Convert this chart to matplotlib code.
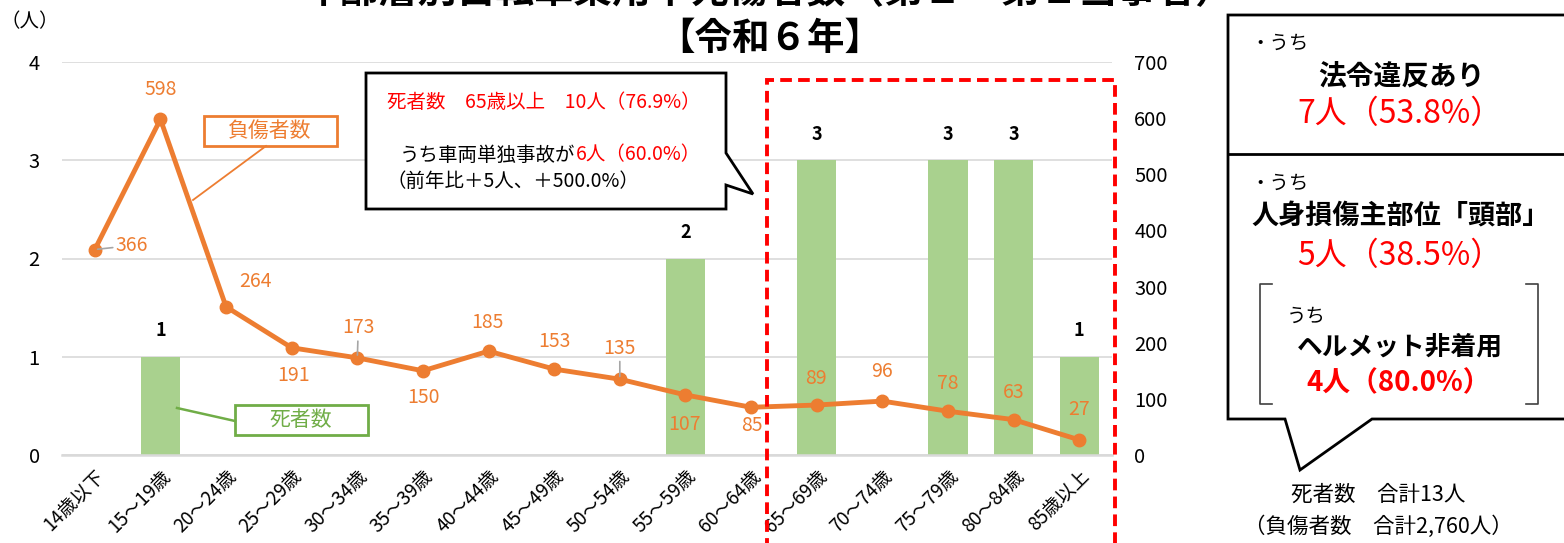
import matplotlib
matplotlib.use('Agg')
import matplotlib.pyplot as plt
from matplotlib.patches import Polygon, Rectangle
from matplotlib.lines import Line2D
from matplotlib.text import Annotation

plt.rcParams['font.family'] = ['Noto Sans CJK JP', 'DejaVu Sans']

# ---------------------------------------------------------------- データ
age_groups = ['14歳以下', '15～19歳', '20～24歳', '25～29歳', '30～34歳', '35～39歳',
              '40～44歳', '45～49歳', '50～54歳', '55～59歳', '60～64歳', '65～69歳',
              '70～74歳', '75～79歳', '80～84歳', '85歳以上']
deaths = [0, 1, 0, 0, 0, 0, 0, 0, 0, 2, 0, 3, 0, 3, 3, 1]          # 死者数（左軸）
injured = [366, 598, 264, 191, 173, 150, 185, 153, 135, 107, 85, 89, 96, 78, 63, 27]  # 負傷者数（右軸）
left_ticks = [0, 1, 2, 3, 4]
right_ticks = [0, 100, 200, 300, 400, 500, 600, 700]

# 負傷者数ラベルの位置（px）
inj_label_offset = [(37, 4), (0, 30), (29, 25), (2, -28), (1, 30), (1, -27), (-1, 29), (0, 28),
                    (0, 31), (-1, -30), (1, -18), (-1, 27), (0, 30), (0, 28), (0, 27), (0, 30)]

ORANGE = '#ED7D31'
GREEN_BAR = '#A9D18E'
GREEN = '#70AD47'
GRID = '#D9D9D9'

W, H = 1564, 543


def fx(x):  # px -> figure 座標
    return x / W


def fy(y):
    return 1 - y / H


fig = plt.figure(figsize=(W / 100, H / 100), dpi=100)
ax = fig.add_axes([fx(62), fy(455), fx(1112) - fx(62), fy(62) - fy(455)])
ax2 = ax.twinx()

x = list(range(len(age_groups)))

# 棒グラフ（死者数）
ax.bar(x, deaths, width=0.6, color=GREEN_BAR, zorder=2)
for i, d in enumerate(deaths):
    if d > 0:
        ax.annotate(str(d), (i, d), xytext=(0, 26), textcoords='offset pixels',
                    ha='center', va='center', fontsize=13, fontweight='bold', color='black')
ax.set_xlim(-0.5, len(age_groups) - 0.5)
ax.set_ylim(0, 4)
ax.set_yticks(left_ticks)
ax.yaxis.grid(True, color=GRID, lw=1.2, zorder=0)
ax.set_axisbelow(True)
ax.set_xticks(x)
ax.set_xticklabels(age_groups, rotation=45, ha='right', rotation_mode='anchor')
ax.tick_params(axis='both', length=0, labelsize=14.5)
ax.tick_params(axis='x', pad=8, labelsize=13.5)
ax.tick_params(axis='y', pad=16)
for s in ['top', 'left', 'right']:
    ax.spines[s].set_visible(False)
ax.spines['bottom'].set_color(GRID)
ax.spines['bottom'].set_linewidth(1.8)

# 折れ線（負傷者数）
ax2.plot(x, injured, color=ORANGE, lw=3.5, marker='o', markersize=9, zorder=3)
ax2.set_ylim(0, 700)
ax2.set_yticks(right_ticks)
ax2.tick_params(axis='y', length=0, labelsize=14.5, pad=16)
for s in ['top', 'left', 'right', 'bottom']:
    ax2.spines[s].set_visible(False)
for i, v in enumerate(injured):
    dx, dy = inj_label_offset[i]
    arrow = None
    if i in (0, 4, 8):
        arrow = dict(arrowstyle='-', color='#A6A6A6', lw=1.2, shrinkA=0, shrinkB=2)
    ax2.annotate(str(v), (i, v), xytext=(dx, dy), textcoords='offset pixels',
                 ha='center', va='center', fontsize=14, color=ORANGE, arrowprops=arrow)

# 凡例代わりの吹き出し
fig.add_artist(Rectangle((fx(204), fy(146)), fx(337) - fx(204), fy(116) - fy(146),
                         transform=fig.transFigure, fill=False, ec=ORANGE, lw=2))
fig.text(fx(270), fy(131), '負傷者数', ha='center', va='center', fontsize=15, color=ORANGE)
fig.add_artist(Line2D([fx(266), fx(193)], [fy(146), fy(200)], transform=fig.transFigure,
                      color=ORANGE, lw=1.3))

fig.add_artist(Rectangle((fx(235), fy(435)), fx(368) - fx(235), fy(405) - fy(435),
                         transform=fig.transFigure, fill=False, ec=GREEN, lw=2))
fig.text(fx(301), fy(420), '死者数', ha='center', va='center', fontsize=15, color=GREEN)
fig.add_artist(Line2D([fx(177), fx(235)], [fy(408), fy(421)], transform=fig.transFigure,
                      color=GREEN, lw=1.8))

# 左上の単位
fig.text(fx(30), fy(22), '（人）', ha='center', va='center', fontsize=14)

# タイトル（上側は切れている）
fig.text(fx(768), fy(-8), '年齢層別自転車乗用中死傷者数（第１～第２当事者）', ha='center', va='center',
         fontsize=28, fontweight='bold')
fig.text(fx(770), fy(38), '【令和６年】', ha='center', va='center', fontsize=27, fontweight='bold')

# 65歳以上の赤点線枠
fig.add_artist(Rectangle((fx(767), fy(548)), fx(1115) - fx(767), fy(80) - fy(548),
                         transform=fig.transFigure, fill=False, ec='red', lw=2.8,
                         ls=(0, (3, 1.6))))

# 中央の吹き出し
bubble = [(366, 73), (726, 73), (726, 153), (753, 194), (726, 185), (726, 209), (366, 209)]
fig.add_artist(Polygon([(fx(a), fy(b)) for a, b in bubble], closed=True, transform=fig.transFigure,
                       fc='white', ec='black', lw=2, zorder=5))
fig.text(fx(387), fy(103), '死者数　65歳以上　10人（76.9%）', ha='left', va='center',
         fontsize=14, color='red', zorder=6)
t1 = fig.text(fx(400), fy(155), 'うち車両単独事故が', ha='left', va='center', fontsize=14, zorder=6)
red_part = Annotation('6人（60.0%）', xy=(1, 0.5), xycoords=t1, ha='left', va='center',
                      fontsize=14, color='red', annotation_clip=False)
red_part.set_zorder(6)
fig.add_artist(red_part)
fig.text(fx(387), fy(181), '（前年比＋5人、＋500.0%）', ha='left', va='center', fontsize=14, zorder=6)

# 右側の吹き出し
rbox = [(1228, 15), (1570, 15), (1570, 419), (1372, 419), (1300, 470), (1285, 419), (1228, 419)]
fig.add_artist(Polygon([(fx(a), fy(b)) for a, b in rbox], closed=True, transform=fig.transFigure,
                       fc='white', ec='black', lw=2))
fig.add_artist(Line2D([fx(1228), fx(1570)], [fy(154), fy(154)], transform=fig.transFigure,
                      color='black', lw=2))
fig.text(fx(1250), fy(43), '・うち', ha='left', va='center', fontsize=14)
fig.text(fx(1401), fy(76), '法令違反あり', ha='center', va='center', fontsize=20, fontweight='bold')
fig.text(fx(1400), fy(114), '7人（53.8%）', ha='center', va='center', fontsize=23, color='red')
fig.text(fx(1250), fy(183), '・うち', ha='left', va='center', fontsize=14)
fig.text(fx(1401), fy(216), '人身損傷主部位「頭部」', ha='center', va='center', fontsize=19.5,
         fontweight='bold')
fig.text(fx(1400), fy(256), '5人（38.5%）', ha='center', va='center', fontsize=23, color='red')
# かっこ
fig.add_artist(Line2D([fx(1272), fx(1260), fx(1260), fx(1272)], [fy(284), fy(284), fy(404), fy(404)],
                      transform=fig.transFigure, color='#404040', lw=1.2))
fig.add_artist(Line2D([fx(1526), fx(1538), fx(1538), fx(1526)], [fy(284), fy(284), fy(404), fy(404)],
                      transform=fig.transFigure, color='#404040', lw=1.2))
fig.text(fx(1287), fy(316), 'うち', ha='left', va='center', fontsize=14)
fig.text(fx(1400), fy(347), 'ヘルメット非着用', ha='center', va='center', fontsize=18.5, fontweight='bold')
fig.text(fx(1399), fy(383), '4人（80.0%）', ha='center', va='center', fontsize=20, fontweight='bold',
         color='red')

fig.text(fx(1378), fy(495), '死者数　合計13人', ha='center', va='center', fontsize=15.5)
fig.text(fx(1378), fy(527), '（負傷者数　合計2,760人）', ha='center', va='center', fontsize=15.5)

fig.savefig('out.png', dpi=100)
